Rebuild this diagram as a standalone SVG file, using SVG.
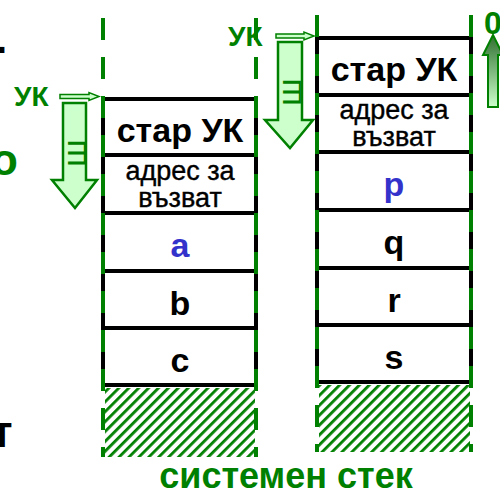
<svg xmlns="http://www.w3.org/2000/svg" width="500" height="493" viewBox="0 0 500 493">
<defs>
<style>
.box{fill:#fff;stroke:#000;stroke-width:4}
.rail{stroke:#008000;stroke-width:4;stroke-dasharray:22 17;fill:none}
.hatch{fill:url(#hatch)}
.cell{font-family:"Liberation Sans",Arial,sans-serif;font-weight:bold;font-size:34px;text-anchor:middle;fill:#000}
.small{font-family:"Liberation Sans",Arial,sans-serif;font-size:27px;text-anchor:middle;fill:#000;stroke:#000;stroke-width:0.4}
.blue{fill:#3333cc}
.gtxt{font-family:"Liberation Sans",Arial,sans-serif;font-weight:bold;fill:#008000}
.btxt{font-family:"Liberation Sans",Arial,sans-serif;font-weight:bold;fill:#000}
.glyph{font-family:"Liberation Sans",Arial,sans-serif;font-size:34px;fill:#008000;text-anchor:middle}
.arr{fill:#ccffcc;stroke:#008000;stroke-width:2.5;stroke-linejoin:miter}
.arrs{fill:#ccffcc;stroke:#008000;stroke-width:1.5}
</style>
<pattern id="hatch" patternUnits="userSpaceOnUse" width="7" height="7" patternTransform="rotate(45)">
<rect width="7" height="7" fill="#fff"/>
<rect x="0" y="0" width="2.8" height="7" fill="#008000"/>
</pattern>
<linearGradient id="up" x1="0" y1="0" x2="0" y2="1">
<stop offset="0" stop-color="#2f6f2f"/>
<stop offset="1" stop-color="#ccffcc"/>
</linearGradient>
</defs>

<!-- side texts (cut off at the left edge, as in the picture) -->
<text class="btxt" x="-4" y="53" font-size="40">.</text>
<text class="gtxt" x="-9" y="175" font-size="44">о</text>
<text class="btxt" x="-9" y="447" font-size="44">т</text>

<g id="left-stack">
<rect class="hatch" x="105" y="388" width="150" height="69"/>
<rect class="box" x="103" y="99" width="153" height="56"/>
<rect class="box" x="103" y="155" width="153" height="58"/>
<rect class="box" x="103" y="213" width="153" height="58"/>
<rect class="box" x="103" y="271" width="153" height="57"/>
<rect class="box" x="103" y="328" width="153" height="57"/>
<text class="cell" x="180" y="142">стар УК</text>
<text class="small" x="180" y="180">адрес за</text>
<text class="small" x="180" y="207">възват</text>
<text class="cell blue" x="180" y="257">a</text>
<text class="cell" x="180" y="315">b</text>
<text class="cell" x="180" y="372">c</text>
</g>

<g id="right-stack">
<rect class="hatch" x="319" y="385" width="151" height="67"/>
<rect class="box" x="317" y="38" width="154" height="57"/>
<rect class="box" x="317" y="95" width="154" height="57"/>
<rect class="box" x="317" y="152" width="154" height="58"/>
<rect class="box" x="317" y="210" width="154" height="58"/>
<rect class="box" x="317" y="268" width="154" height="57"/>
<rect class="box" x="317" y="325" width="154" height="57"/>
<text class="cell" x="394" y="81">стар УК</text>
<text class="small" x="394" y="119">адрес за</text>
<text class="small" x="394" y="146">възват</text>
<text class="cell blue" x="394" y="196">p</text>
<text class="cell" x="394" y="254">q</text>
<text class="cell" x="394" y="312">r</text>
<text class="cell" x="394" y="369">s</text>
</g>

<g id="connectors">
<line class="rail" x1="103" y1="18" x2="103" y2="457"/>
<line class="rail" x1="256" y1="18" x2="256" y2="457"/>
<line class="rail" x1="317" y1="15" x2="317" y2="452"/>
<line class="rail" x1="471" y1="15" x2="471" y2="452"/>

<path class="arrs" d="M60,94.5 H89 V92.5 L99,96.5 L89,100.5 V98.5 H60 Z"/>
<path class="arr" d="M63,103 H86 V180 H97 L75,208 L52,180 H63 Z"/>
<text class="glyph" transform="translate(86,153) rotate(-90)">ш</text>

<path class="arrs" d="M276,34 H304 V32 L314,36 L304,40 V38 H276 Z"/>
<path class="arr" d="M278,42 H302 V120 H313 L290,148 L265,120 H278 Z"/>
<text class="glyph" transform="translate(301,92) rotate(-90)">ш</text>

<path d="M493,35 L503,55 H498 V107 H488 V55 H483 Z" fill="url(#up)" stroke="#008000" stroke-width="2"/>
</g>

<text class="gtxt" x="14" y="106" font-size="28">УК</text>
<text class="gtxt" x="228" y="46" font-size="28">УК</text>
<text class="gtxt" x="484" y="34" font-size="32">0</text>
<text class="gtxt" x="286" y="488" font-size="36" text-anchor="middle">системен стек</text>
</svg>
